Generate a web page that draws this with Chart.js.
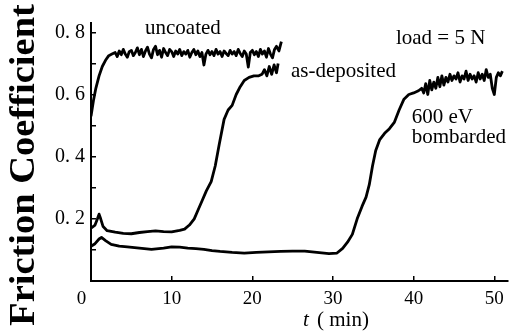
<!DOCTYPE html>
<html>
<head>
<meta charset="utf-8">
<script src="https://cdn.jsdelivr.net/npm/chart.js@4.4.1/dist/chart.umd.min.js"></script>
<style>
  body { margin: 0; background: #fff; }
  canvas { display: block; }
</style>
</head>
<body>
<canvas id="friction_chart" width="516" height="335"></canvas>
<script>
// friction coefficient vs sliding time
var uncoated_t = [0, 0.3, 0.6, 1, 1.4, 1.8, 2.2, 2.6,
    3, 3.25, 3.5, 3.75, 4, 4.25, 4.5, 4.75, 5, 5.25, 5.5, 5.75, 6, 6.25, 6.5, 6.75,
    7, 7.25, 7.5, 7.75, 8, 8.25, 8.5, 8.75, 9, 9.25, 9.5, 9.75, 10, 10.25, 10.5, 10.75,
    11, 11.25, 11.5, 11.75, 12, 12.25, 12.5, 12.75, 13, 13.25, 13.5, 13.75, 14, 14.25, 14.5, 14.75,
    15, 15.25, 15.5, 15.75, 16, 16.25, 16.5, 16.75, 17, 17.25, 17.5, 17.75, 18, 18.25, 18.5, 18.75,
    19, 19.25, 19.5, 19.75, 20, 20.25, 20.5, 20.75, 21, 21.25, 21.5, 21.75, 22, 22.25, 22.5, 22.75,
    23, 23.3, 23.6];
var uncoated_mu = [0.53, 0.58, 0.62, 0.66, 0.69, 0.71, 0.725, 0.73,
    0.735, 0.722, 0.74, 0.728, 0.745, 0.73, 0.72, 0.738, 0.742, 0.725, 0.735, 0.75, 0.728, 0.745, 0.722, 0.74,
    0.752, 0.73, 0.718, 0.745, 0.755, 0.728, 0.742, 0.72, 0.748, 0.735, 0.725, 0.745, 0.738, 0.722, 0.74, 0.73,
    0.745, 0.725, 0.738, 0.73, 0.742, 0.72, 0.735, 0.745, 0.728, 0.74, 0.722, 0.735, 0.695, 0.73, 0.742, 0.728,
    0.738, 0.725, 0.745, 0.73, 0.738, 0.722, 0.74, 0.732, 0.725, 0.742, 0.73, 0.738, 0.725, 0.745, 0.732, 0.722,
    0.74, 0.73, 0.688, 0.735, 0.742, 0.728, 0.738, 0.722, 0.745, 0.73, 0.74, 0.72, 0.748, 0.73, 0.718, 0.745,
    0.755, 0.74, 0.77];

var deposited_t = [0, 0.5, 0.8, 1.0, 1.2, 1.5, 2, 3, 4, 5, 6, 7, 8, 9, 10, 11, 11.6, 12.2, 12.8, 13.3, 13.8,
    14.3, 14.9, 15.4, 15.9, 16.5, 17, 17.5, 18, 18.5, 19, 19.6, 20.2, 20.8, 21.2, 21.5, 21.8, 22.1, 22.4, 22.7, 23, 23.2];
var deposited_mu = [0.17, 0.18, 0.2, 0.215, 0.2, 0.175, 0.162, 0.157, 0.153, 0.152, 0.156, 0.159, 0.161, 0.159, 0.158, 0.163, 0.167, 0.18, 0.2, 0.23, 0.26,
    0.29, 0.32, 0.37, 0.44, 0.52, 0.55, 0.565, 0.6, 0.625, 0.645, 0.655, 0.66, 0.66, 0.665, 0.68, 0.66, 0.69, 0.665, 0.695, 0.67, 0.7];

var bombarded_t = [0, 0.5, 1, 1.3, 1.8, 2.5, 3.5, 4.5, 6, 7.5, 9, 10, 11, 12, 13, 14, 15, 16, 17.5, 19, 20.5, 22, 23.5, 25, 26.5, 28, 29.5,
    30.5, 31.2, 31.8, 32.4, 33, 33.6, 34.1, 34.5, 34.9, 35.3, 35.8, 36.4, 37, 37.6, 38.2, 38.8, 39.4, 40, 40.6,
    41, 41.25, 41.5, 41.75, 42, 42.25, 42.5, 42.75, 43, 43.25, 43.5, 43.75, 44, 44.25, 44.5, 44.75,
    45, 45.25, 45.5, 45.75, 46, 46.25, 46.5, 46.75, 47, 47.25, 47.5, 47.75, 48, 48.25, 48.5, 48.75,
    49, 49.25, 49.5, 49.75, 50, 50.25, 50.5, 50.75, 51];
var bombarded_mu = [0.112, 0.12, 0.135, 0.14, 0.13, 0.118, 0.112, 0.11, 0.106, 0.102, 0.106, 0.11, 0.109, 0.106, 0.104, 0.102, 0.098, 0.095, 0.092, 0.09, 0.092, 0.094, 0.095, 0.096, 0.096, 0.092, 0.088,
    0.09, 0.105, 0.125, 0.15, 0.2, 0.24, 0.27, 0.31, 0.37, 0.42, 0.455, 0.475, 0.49, 0.51, 0.55, 0.585, 0.6, 0.605, 0.612,
    0.62, 0.605, 0.635, 0.6, 0.645, 0.615, 0.64, 0.62, 0.655, 0.625, 0.66, 0.63, 0.655, 0.64, 0.665, 0.645,
    0.66, 0.65, 0.67, 0.64, 0.66, 0.65, 0.675, 0.645, 0.665, 0.65, 0.66, 0.64, 0.67, 0.65, 0.665, 0.645,
    0.68, 0.655, 0.665, 0.62, 0.6, 0.655, 0.67, 0.66, 0.675];

var x_ticks = [0, 10, 20, 30, 40, 50];
var y_labels = ['0. 2', '0. 4', '0. 6', '0. 8'];

function to_points(ts, mus) {
    return ts.map(function(t, i) { return {x: t, y: mus[i]}; });
}

function make_dataset(label, ts, mus) {
    return {
        label: label,
        data: to_points(ts, mus),
        borderColor: '#000',
        borderWidth: 2.8,
        pointRadius: 0,
        tension: 0,
        borderJoinStyle: 'round',
        fill: false
    };
}

var serif = '"Liberation Serif", "Times New Roman", serif';

// curve labels and axis titles
var text_plugin = {
    id: 'text_plugin',
    afterDraw: function(chart) {
        var ctx = chart.ctx;
        var xs = chart.scales.x, ys = chart.scales.y;
        ctx.save();
        ctx.fillStyle = '#000';
        ctx.textBaseline = 'alphabetic';
        ctx.textAlign = 'left';
        ctx.font = '21px ' + serif;
        var notes = [
            ['uncoated', 6.7, 0.794],
            ['load = 5 N', 37.8, 0.763],
            ['as-deposited', 24.8, 0.657],
            ['600 eV', 39.75, 0.509],
            ['bombarded', 39.75, 0.443]
        ];
        notes.forEach(function(n) {
            ctx.fillText(n[0], xs.getPixelForValue(n[1]), ys.getPixelForValue(n[2]));
        });

        // x title: italic t
        ctx.font = 'italic 21px ' + serif;
        ctx.fillText('t', 303, 326);
        ctx.font = '21px ' + serif;
        ctx.fillText('( min)', 317, 326);

        // y title
        ctx.translate(34, 165);
        ctx.rotate(-Math.PI / 2);
        ctx.scale(1.1, 1);
        ctx.textAlign = 'center';
        ctx.font = 'bold 35px ' + serif;
        ctx.fillText('Friction Coefficient', 0, 0);
        ctx.restore();
    }
};

var ctx = document.getElementById('friction_chart');
var chart = new Chart(ctx, {
    type: 'line',
    data: {
        datasets: [
            make_dataset('uncoated', uncoated_t, uncoated_mu),
            make_dataset('as-deposited', deposited_t, deposited_mu),
            make_dataset('600 eV bombarded', bombarded_t, bombarded_mu)
        ]
    },
    options: {
        responsive: false,
        animation: false,
        layout: { padding: { left: 0, right: 6, top: 13, bottom: 0 } },
        plugins: {
            legend: { display: false },
            tooltip: { enabled: false }
        },
        scales: {
            x: {
                type: 'linear',
                min: 0,
                max: 51.7,
                afterFit: function(s) { s.height = 54; },
                afterBuildTicks: function(s) {
                    s.ticks = x_ticks.map(function(v) { return {value: v}; });
                },
                border: { color: '#000', width: 2 },
                grid: { drawOnChartArea: false, color: '#000', lineWidth: 1.5, tickLength: -5 },
                ticks: {
                    color: '#000',
                    padding: 12,
                    maxRotation: 0,
                    font: { family: serif, size: 19 },
                    callback: function(v) { return v === 0 ? '0    ' : String(v); }
                }
            },
            y: {
                min: 0,
                max: 0.83,
                afterFit: function(s) { s.width = 91; },
                border: { color: '#000', width: 2 },
                grid: { drawOnChartArea: false, color: '#000', lineWidth: 1.5, tickLength: -5 },
                ticks: {
                    stepSize: 0.1,
                    includeBounds: false,
                    color: '#000',
                    padding: 11,
                    font: { family: serif, size: 20 },
                    callback: function(v) {
                        var k = Math.round(v * 10);
                        if (k === 0 || k % 2 === 1) return '';
                        return y_labels[k / 2 - 1];
                    }
                }
            }
        }
    },
    plugins: [text_plugin]
});
</script>
</body>
</html>
